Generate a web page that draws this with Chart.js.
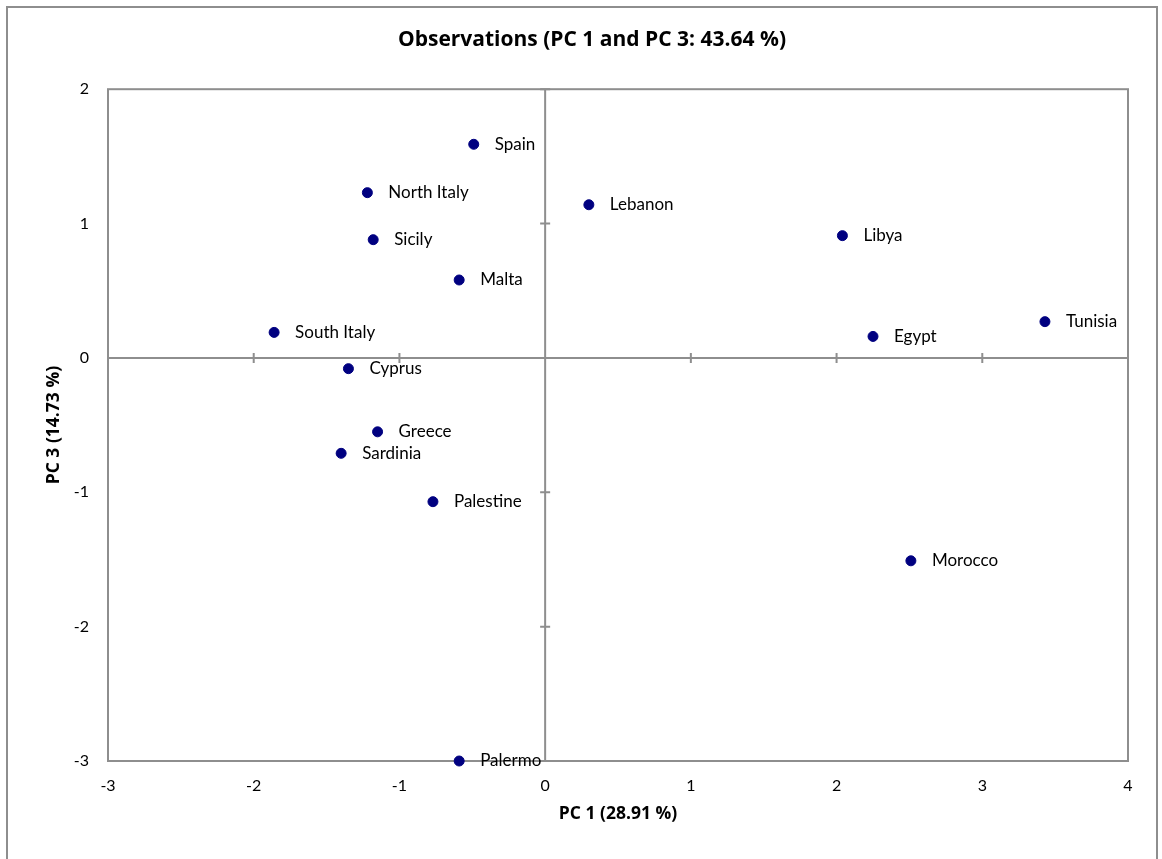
<!DOCTYPE html>
<html>
<head>
<meta charset="utf-8">
<title>Observations (PC 1 and PC 3)</title>
<script src="https://cdn.jsdelivr.net/npm/chart.js@4.4.1/dist/chart.umd.min.js"></script>
<style>
  html, body { margin: 0; padding: 0; background: #fff; overflow: hidden; }
  #wrap { position: relative; width: 1162px; height: 859px; }
  #frame {
    position: absolute; left: 6px; top: 6px; width: 1152px; height: 900px;
    border: 2px solid #8e8e8e; box-sizing: border-box;
  }
  #chart { position: absolute; left: 0; top: 0; }
</style>
</head>
<body>
<div id="wrap">
  <div id="frame"></div>
  <canvas id="chart" width="1162" height="859"></canvas>
</div>
<script>
  /* Observations on the first and third principal components */
  const NAMES = [
    "Spain", "North Italy", "Sicily", "Malta", "South Italy", "Cyprus",
    "Greece", "Sardinia", "Palestine", "Palermo", "Lebanon", "Libya",
    "Tunisia", "Egypt", "Morocco",
  ];
  const PC1 = [
    -0.49, -1.22, -1.18, -0.59, -1.86, -1.35,
    -1.15, -1.40, -0.77, -0.59, 0.30, 2.04,
    3.43, 2.25, 2.51,
  ];
  const PC3 = [
    1.59, 1.23, 0.88, 0.58, 0.19, -0.08,
    -0.55, -0.71, -1.07, -3.00, 1.14, 0.91,
    0.27, 0.16, -1.51,
  ];
  const X_TICKS = [-3, -2, -1, 0, 1, 2, 3, 4];
  const Y_TICKS = [-3, -2, -1, 0, 1, 2];

  const GRAY = "#8e8e8e";
  const FONT = "Lato, 'Open Sans', sans-serif";
  const BOLD_FONT = "'Open Sans', Lato, sans-serif";

  // box round the plot, the two zero axes and their little cross ticks
  const zeroAxes = {
    id: "zeroAxes",
    beforeDatasetsDraw(chart) {
      const { ctx, chartArea: a, scales: { x, y } } = chart;
      const x0 = x.getPixelForValue(0);
      const y0 = y.getPixelForValue(0);
      ctx.save();
      ctx.strokeStyle = GRAY;
      ctx.lineWidth = 2;
      ctx.strokeRect(a.left, a.top, a.width, a.height);
      ctx.beginPath();
      ctx.moveTo(x0, a.top);
      ctx.lineTo(x0, a.bottom);
      ctx.moveTo(a.left, y0);
      ctx.lineTo(a.right, y0);
      X_TICKS.forEach(function (v) {
        const px = x.getPixelForValue(v);
        ctx.moveTo(px, y0 - 5);
        ctx.lineTo(px, y0 + 5);
      });
      Y_TICKS.forEach(function (v) {
        const py = y.getPixelForValue(v);
        ctx.moveTo(x0 - 5, py);
        ctx.lineTo(x0 + 5, py);
      });
      ctx.stroke();
      ctx.restore();
    },
  };

  // names written to the right of each point
  const pointNames = {
    id: "pointNames",
    afterDatasetsDraw(chart) {
      const { ctx } = chart;
      const meta = chart.getDatasetMeta(0);
      ctx.save();
      ctx.font = "17px " + FONT;
      ctx.fillStyle = "#000";
      ctx.textAlign = "left";
      ctx.textBaseline = "middle";
      meta.data.forEach(function (el, i) {
        ctx.fillText(NAMES[i], el.x + 21, el.y);
      });
      ctx.restore();
    },
  };

  new Chart(document.getElementById("chart"), {
    type: "scatter",
    data: {
      datasets: [{
        label: "Observations",
        data: NAMES.map(function (n, i) { return { x: PC1[i], y: PC3[i] }; }),
        backgroundColor: "#000080",
        borderColor: "#000080",
        pointRadius: 5,
        pointHoverRadius: 5,
        clip: false,
      }],
    },
    options: {
      responsive: false,
      animation: false,
      layout: { padding: { top: 27, left: 56, right: 34, bottom: 0 } },
      plugins: {
        legend: { display: false },
        tooltip: { enabled: false },
        title: {
          display: true,
          text: "Observations (PC 1 and PC 3: 43.64 %)",
          color: "#000",
          font: { family: BOLD_FONT, size: 21, weight: "bold" },
          padding: { top: 0, bottom: 37 },
        },
      },
      scales: {
        x: {
          type: "linear",
          min: -3,
          max: 4,
          afterFit: function (s) { s.height = 98; },
          afterBuildTicks: function (s) { s.ticks = X_TICKS.map(function (v) { return { value: v }; }); },
          grid: { display: false, drawTicks: false },
          border: { display: false },
          ticks: { color: "#000", padding: 15, font: { family: FONT, size: 16 }, maxRotation: 0 },
          title: {
            display: true,
            text: "PC 1 (28.91 %)",
            color: "#000",
            font: { family: BOLD_FONT, size: 17.5, weight: "bold" },
            padding: { top: 0, bottom: 34 },
          },
        },
        y: {
          type: "linear",
          min: -3,
          max: 2,
          afterFit: function (s) { s.width = 52; },
          afterBuildTicks: function (s) { s.ticks = Y_TICKS.map(function (v) { return { value: v }; }); },
          grid: { display: false, drawTicks: false },
          border: { display: false },
          ticks: { color: "#000", padding: 19, font: { family: FONT, size: 16 } },
          title: {
            display: true,
            text: "PC 3 (14.73 %)",
            color: "#000",
            font: { family: BOLD_FONT, size: 17.5, weight: "bold" },
            padding: { top: -12, bottom: 0 },
          },
        },
      },
    },
    plugins: [zeroAxes, pointNames],
  });
</script>
</body>
</html>
